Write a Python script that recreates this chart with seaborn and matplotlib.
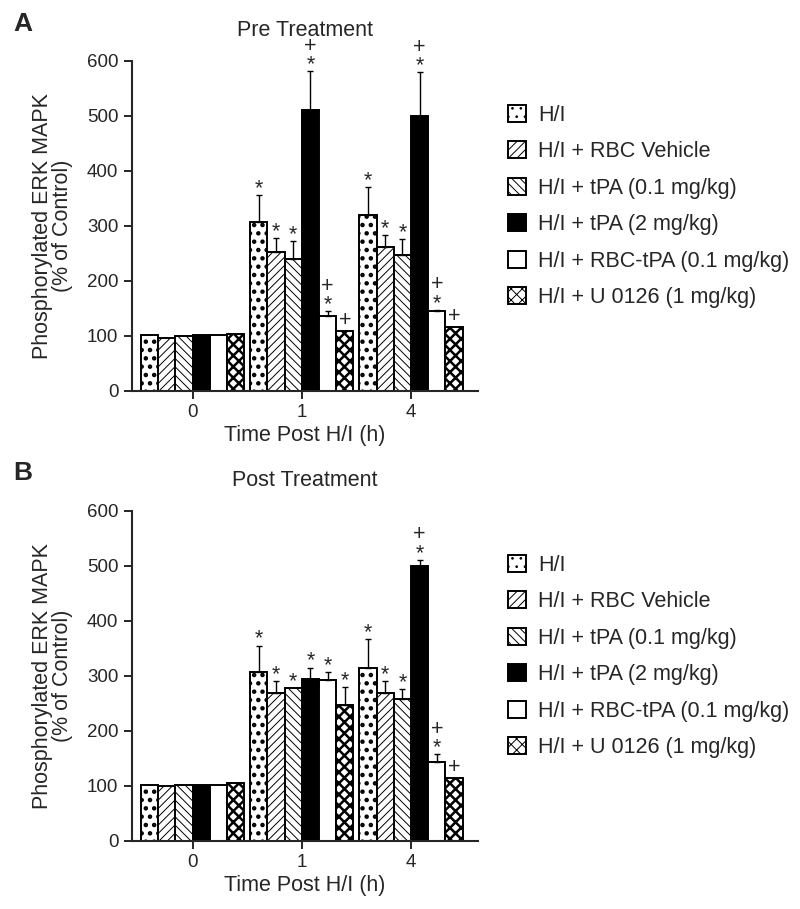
import matplotlib
matplotlib.use("Agg")
import matplotlib.pyplot as plt
import seaborn as sns
import pandas as pd
from matplotlib.patches import Patch
from matplotlib.container import BarContainer

times = ["0", "1", "4"]
treatments = ["H/I", "H/I + RBC Vehicle", "H/I + tPA (0.1 mg/kg)",
              "H/I + tPA (2 mg/kg)", "H/I + RBC-tPA (0.1 mg/kg)",
              "H/I + U 0126 (1 mg/kg)"]

# means per treatment at times 0, 1, 4 h
pre_means = [[102, 307, 319], [96, 253, 261], [99, 240, 246],
             [102, 511, 499], [102, 135, 144], [103, 108, 115]]
pre_errs = [[0, 48, 51], [0, 24, 22], [0, 33, 30],
            [0, 70, 80], [0, 9, 3], [0, 0, 0]]
pre_marks = [["", "*", "*"], ["", "*", "*"], ["", "*", "*"],
             ["", "+*", "+*"], ["", "+*", "+*"], ["", "+", "+"]]

post_means = [[102, 306, 315], [100, 268, 268], [102, 277, 258],
              [102, 295, 499], [101, 292, 144], [105, 247, 114]]
post_errs = [[0, 49, 52], [0, 23, 23], [0, 0, 18],
             [0, 20, 12], [0, 14, 13], [0, 33, 0]]
post_marks = [["", "*", "*"], ["", "*", "*"], ["", "*", "*"],
              ["", "*", "+*"], ["", "*", "+*"], ["", "*", "+"]]

faces = ["white", "white", "white", "black", "white", "white"]
hatches = ["..", "////", "\\\\\\\\", "", "", "xxx"]
hatch_lw = [2.0, 0.7, 0.7, 0.7, 0.7, 1.8]

sns.set_style("ticks")
plt.rcParams["font.family"] = ["Liberation Sans", "DejaVu Sans"]
plt.rcParams["hatch.linewidth"] = 0.7
plt.rcParams["hatch.color"] = "black"

fig = plt.figure(figsize=(8, 9.09), dpi=100)
ax_a = fig.add_axes([0.1646, 0.5702, 0.433, 0.363])
ax_b = fig.add_axes([0.1646, 0.0751, 0.433, 0.363])

FS = 15.5


def style_patch(p, i):
    p.set_hatch(hatches[i])
    p.set_edgecolor("black")
    if hasattr(p, "set_hatch_linewidth"):
        p.set_hatch_linewidth(hatch_lw[i])


def draw(ax, means, errs, marks, title):
    rows = []
    for t, vals in zip(treatments, means):
        for tm, v in zip(times, vals):
            rows.append({"time": tm, "treatment": t, "value": v})
    df = pd.DataFrame(rows)
    sns.barplot(data=df, x="time", y="value", hue="treatment",
                order=times, hue_order=treatments,
                palette=dict(zip(treatments, faces)),
                width=0.945, errorbar=None, edgecolor="black",
                linewidth=1.4, legend=False, ax=ax)
    bar_conts = [c for c in ax.containers if isinstance(c, BarContainer)]
    for i, cont in enumerate(bar_conts):
        for j, bar in enumerate(cont.patches):
            style_patch(bar, i)
            cx = bar.get_x() + bar.get_width() / 2
            top = bar.get_height()
            if errs[i][j] > 0:
                ax.errorbar(cx, top, yerr=[[0], [errs[i][j]]], fmt="none",
                            ecolor="black", elinewidth=1.0, capsize=2.5,
                            capthick=1.0)
            tip = top + errs[i][j]
            m = marks[i][j]
            if "*" in m:
                ax.annotate("*", (cx, tip), xytext=(0, -3),
                            textcoords="offset points", ha="center",
                            va="bottom", fontsize=FS, annotation_clip=False)
            if "+" in m:
                off = 10.5 if "*" in m else 0
                ax.annotate("+", (cx, tip), xytext=(0, off),
                            textcoords="offset points", ha="center",
                            va="bottom", fontsize=FS, annotation_clip=False)
    ax.set_ylim(0, 600)
    ax.set_xlim(-0.557, 2.614)
    ax.set_yticks(range(0, 601, 100))
    ax.set_xlabel("Time Post H/I (h)", fontsize=FS, labelpad=3)
    ax.set_ylabel("Phosphorylated ERK MAPK\n(% of Control)", fontsize=FS,
                  labelpad=10, linespacing=0.95)
    ax.set_title(title, fontsize=FS, pad=18)
    ax.tick_params(labelsize=13.5, width=1.4, length=6, direction="out")
    for s in ["top", "right"]:
        ax.spines[s].set_visible(False)
    for s in ["left", "bottom"]:
        ax.spines[s].set_linewidth(1.5)
    handles = []
    for i, f in enumerate(faces):
        h = Patch(facecolor=f, edgecolor="black", hatch=hatches[i],
                  linewidth=1.4)
        style_patch(h, i)
        handles.append(h)
    ax.legend(handles, treatments, loc="upper left",
              bbox_to_anchor=(1.031, 0.926), frameon=False, fontsize=FS,
              handlelength=0.85, handleheight=0.85, handletextpad=0.55,
              labelspacing=0.72)


draw(ax_a, pre_means, pre_errs, pre_marks, "Pre Treatment")
draw(ax_b, post_means, post_errs, post_marks, "Post Treatment")

fig.text(0.017, 0.966, "A", fontsize=19, fontweight="bold")
fig.text(0.017, 0.472, "B", fontsize=19, fontweight="bold")

fig.savefig("out.png", dpi=100)
